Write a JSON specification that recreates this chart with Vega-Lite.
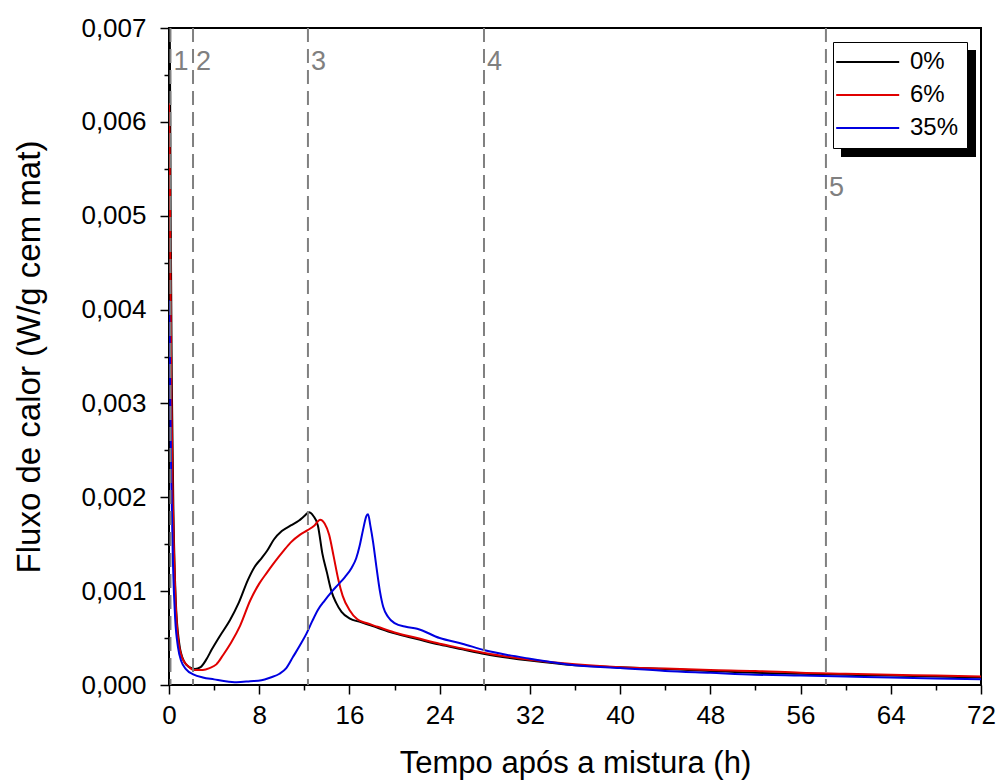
{
  "$schema": "https://vega.github.io/schema/vega-lite/v6.json",
  "width": 812,
  "height": 657,
  "autosize": {"type": "none"},
  "padding": {"left": 169, "top": 28, "right": 18, "bottom": 97},
  "background": "white",
  "config": {
    "font": "Liberation Sans",
    "view": {"stroke": "black", "strokeWidth": 2},
    "axis": {
      "domain": false, "grid": false, "tickColor": "black", "tickWidth": 1.5,
      "labelColor": "black", "titleColor": "black", "labelFont": "Liberation Sans",
      "titleFont": "Liberation Sans", "titleFontWeight": "normal",
      "labelFlush": false, "labelOverlap": false
    }
  },
  "datasets": {
    "curves": [
      {"series": "0%", "t": 0, "q": 0.008},
      {"series": "0%", "t": 0.08, "q": 0.0068},
      {"series": "0%", "t": 0.15, "q": 0.005},
      {"series": "0%", "t": 0.25, "q": 0.0032},
      {"series": "0%", "t": 0.4, "q": 0.0018},
      {"series": "0%", "t": 0.6, "q": 0.0009},
      {"series": "0%", "t": 0.9, "q": 0.00045},
      {"series": "0%", "t": 1.3, "q": 0.00026},
      {"series": "0%", "t": 1.8, "q": 0.00019},
      {"series": "0%", "t": 2.3, "q": 0.00017},
      {"series": "0%", "t": 2.8, "q": 0.00019},
      {"series": "0%", "t": 3.3, "q": 0.00027},
      {"series": "0%", "t": 3.8, "q": 0.00038},
      {"series": "0%", "t": 4.5, "q": 0.00052},
      {"series": "0%", "t": 5.4, "q": 0.00069},
      {"series": "0%", "t": 6.2, "q": 0.00088},
      {"series": "0%", "t": 7.0, "q": 0.00112},
      {"series": "0%", "t": 7.6, "q": 0.00126},
      {"series": "0%", "t": 8.2, "q": 0.00135},
      {"series": "0%", "t": 8.7, "q": 0.00143},
      {"series": "0%", "t": 9.3, "q": 0.00155},
      {"series": "0%", "t": 10.0, "q": 0.00164},
      {"series": "0%", "t": 10.8, "q": 0.0017},
      {"series": "0%", "t": 11.5, "q": 0.00175},
      {"series": "0%", "t": 12.0, "q": 0.0018},
      {"series": "0%", "t": 12.4, "q": 0.00184},
      {"series": "0%", "t": 12.8, "q": 0.0018},
      {"series": "0%", "t": 13.2, "q": 0.0017},
      {"series": "0%", "t": 13.6, "q": 0.0014},
      {"series": "0%", "t": 14.0, "q": 0.0012},
      {"series": "0%", "t": 14.4, "q": 0.001},
      {"series": "0%", "t": 14.8, "q": 0.00088},
      {"series": "0%", "t": 15.3, "q": 0.00078},
      {"series": "0%", "t": 16.0, "q": 0.00071},
      {"series": "0%", "t": 17.0, "q": 0.00067},
      {"series": "0%", "t": 18.0, "q": 0.00063},
      {"series": "0%", "t": 20.0, "q": 0.00055},
      {"series": "0%", "t": 22.0, "q": 0.00049},
      {"series": "0%", "t": 24.0, "q": 0.00043},
      {"series": "0%", "t": 26.0, "q": 0.00038},
      {"series": "0%", "t": 28.0, "q": 0.00033},
      {"series": "0%", "t": 32.0, "q": 0.00026},
      {"series": "0%", "t": 36.0, "q": 0.00021},
      {"series": "0%", "t": 40.0, "q": 0.00019},
      {"series": "0%", "t": 44.0, "q": 0.00017},
      {"series": "0%", "t": 48.0, "q": 0.00015},
      {"series": "0%", "t": 52.0, "q": 0.00013},
      {"series": "0%", "t": 56.0, "q": 0.00012},
      {"series": "0%", "t": 60.0, "q": 0.00011},
      {"series": "0%", "t": 64.0, "q": 0.0001},
      {"series": "0%", "t": 68.0, "q": 0.00009},
      {"series": "0%", "t": 72.0, "q": 0.00008},
      {"series": "6%", "t": 0, "q": 0.0062},
      {"series": "6%", "t": 0.05, "q": 0.0058},
      {"series": "6%", "t": 0.12, "q": 0.0045},
      {"series": "6%", "t": 0.2, "q": 0.0032},
      {"series": "6%", "t": 0.35, "q": 0.0019},
      {"series": "6%", "t": 0.55, "q": 0.001},
      {"series": "6%", "t": 0.8, "q": 0.0005},
      {"series": "6%", "t": 1.2, "q": 0.00028},
      {"series": "6%", "t": 1.7, "q": 0.0002},
      {"series": "6%", "t": 2.2, "q": 0.00016},
      {"series": "6%", "t": 3.0, "q": 0.00016},
      {"series": "6%", "t": 3.6, "q": 0.00018},
      {"series": "6%", "t": 4.2, "q": 0.00022},
      {"series": "6%", "t": 4.8, "q": 0.00032},
      {"series": "6%", "t": 5.5, "q": 0.00045},
      {"series": "6%", "t": 6.3, "q": 0.00063},
      {"series": "6%", "t": 7.2, "q": 0.0009},
      {"series": "6%", "t": 8.0, "q": 0.00108},
      {"series": "6%", "t": 8.7, "q": 0.0012},
      {"series": "6%", "t": 9.5, "q": 0.00133},
      {"series": "6%", "t": 10.1, "q": 0.00142},
      {"series": "6%", "t": 10.8, "q": 0.00152},
      {"series": "6%", "t": 11.6, "q": 0.0016},
      {"series": "6%", "t": 12.3, "q": 0.00165},
      {"series": "6%", "t": 12.9, "q": 0.0017},
      {"series": "6%", "t": 13.4, "q": 0.00176},
      {"series": "6%", "t": 13.8, "q": 0.00172},
      {"series": "6%", "t": 14.2, "q": 0.0016},
      {"series": "6%", "t": 14.6, "q": 0.00137},
      {"series": "6%", "t": 15.0, "q": 0.00113},
      {"series": "6%", "t": 15.4, "q": 0.00095},
      {"series": "6%", "t": 16.0, "q": 0.0008},
      {"series": "6%", "t": 16.7, "q": 0.0007},
      {"series": "6%", "t": 17.5, "q": 0.00066},
      {"series": "6%", "t": 18.5, "q": 0.00062},
      {"series": "6%", "t": 20.0, "q": 0.00056},
      {"series": "6%", "t": 22.0, "q": 0.0005},
      {"series": "6%", "t": 24.0, "q": 0.00044},
      {"series": "6%", "t": 26.0, "q": 0.00039},
      {"series": "6%", "t": 28.0, "q": 0.00034},
      {"series": "6%", "t": 32.0, "q": 0.00027},
      {"series": "6%", "t": 36.0, "q": 0.00022},
      {"series": "6%", "t": 40.0, "q": 0.00019},
      {"series": "6%", "t": 44.0, "q": 0.000175},
      {"series": "6%", "t": 48.0, "q": 0.00016},
      {"series": "6%", "t": 52.0, "q": 0.00015},
      {"series": "6%", "t": 56.0, "q": 0.00013},
      {"series": "6%", "t": 60.0, "q": 0.00012},
      {"series": "6%", "t": 64.0, "q": 0.00011},
      {"series": "6%", "t": 68.0, "q": 0.0001},
      {"series": "6%", "t": 72.0, "q": 0.00009},
      {"series": "35%", "t": 0, "q": 0.0041},
      {"series": "35%", "t": 0.05, "q": 0.0038},
      {"series": "35%", "t": 0.12, "q": 0.003},
      {"series": "35%", "t": 0.2, "q": 0.0022},
      {"series": "35%", "t": 0.35, "q": 0.0013},
      {"series": "35%", "t": 0.55, "q": 0.0007},
      {"series": "35%", "t": 0.8, "q": 0.0004},
      {"series": "35%", "t": 1.1, "q": 0.00025},
      {"series": "35%", "t": 1.5, "q": 0.00017},
      {"series": "35%", "t": 2.2, "q": 0.00011},
      {"series": "35%", "t": 3.0, "q": 0.00008},
      {"series": "35%", "t": 4.0, "q": 0.00006},
      {"series": "35%", "t": 5.0, "q": 0.00004},
      {"series": "35%", "t": 6.0, "q": 0.00003},
      {"series": "35%", "t": 7.2, "q": 0.00004},
      {"series": "35%", "t": 8.2, "q": 0.00005},
      {"series": "35%", "t": 9.0, "q": 0.00008},
      {"series": "35%", "t": 9.8, "q": 0.00012},
      {"series": "35%", "t": 10.4, "q": 0.00018},
      {"series": "35%", "t": 11.0, "q": 0.0003},
      {"series": "35%", "t": 11.6, "q": 0.00042},
      {"series": "35%", "t": 12.2, "q": 0.00055},
      {"series": "35%", "t": 12.7, "q": 0.00068},
      {"series": "35%", "t": 13.2, "q": 0.0008},
      {"series": "35%", "t": 13.8, "q": 0.0009},
      {"series": "35%", "t": 14.4, "q": 0.00099},
      {"series": "35%", "t": 15.0, "q": 0.00107},
      {"series": "35%", "t": 15.6, "q": 0.00115},
      {"series": "35%", "t": 16.2, "q": 0.00125},
      {"series": "35%", "t": 16.6, "q": 0.00135},
      {"series": "35%", "t": 16.9, "q": 0.00148},
      {"series": "35%", "t": 17.2, "q": 0.00165},
      {"series": "35%", "t": 17.5, "q": 0.0018},
      {"series": "35%", "t": 17.65, "q": 0.00182},
      {"series": "35%", "t": 17.85, "q": 0.0017},
      {"series": "35%", "t": 18.1, "q": 0.00152},
      {"series": "35%", "t": 18.4, "q": 0.00125},
      {"series": "35%", "t": 18.7, "q": 0.001},
      {"series": "35%", "t": 19.0, "q": 0.00083},
      {"series": "35%", "t": 19.4, "q": 0.00073},
      {"series": "35%", "t": 20.0, "q": 0.00066},
      {"series": "35%", "t": 21.0, "q": 0.00062},
      {"series": "35%", "t": 22.0, "q": 0.0006},
      {"series": "35%", "t": 24.0, "q": 0.0005},
      {"series": "35%", "t": 26.0, "q": 0.00044},
      {"series": "35%", "t": 28.0, "q": 0.00037},
      {"series": "35%", "t": 30.0, "q": 0.00032},
      {"series": "35%", "t": 32.0, "q": 0.00028},
      {"series": "35%", "t": 36.0, "q": 0.00021},
      {"series": "35%", "t": 40.0, "q": 0.00018},
      {"series": "35%", "t": 44.0, "q": 0.00015},
      {"series": "35%", "t": 48.0, "q": 0.00013},
      {"series": "35%", "t": 52.0, "q": 0.00011},
      {"series": "35%", "t": 56.0, "q": 0.0001},
      {"series": "35%", "t": 60.0, "q": 0.00009},
      {"series": "35%", "t": 64.0, "q": 0.00008},
      {"series": "35%", "t": 68.0, "q": 0.00007},
      {"series": "35%", "t": 72.0, "q": 0.00006}
    ],
    "markers": [
      {"label": "1", "t": 0.13, "ly": 0.00664},
      {"label": "2", "t": 2.13, "ly": 0.00664},
      {"label": "3", "t": 12.32, "ly": 0.00664},
      {"label": "4", "t": 27.93, "ly": 0.00664},
      {"label": "5", "t": 58.25, "ly": 0.0053}
    ]
  },
  "resolve": {"axis": {"x": "independent", "y": "independent"}},
  "layer": [
    {
      "data": {"name": "curves"},
      "mark": {"type": "line", "clip": true, "strokeWidth": 2, "interpolate": "monotone"},
      "encoding": {
        "x": {
          "field": "t", "type": "quantitative",
          "scale": {"domain": [0, 72], "nice": false, "zero": false},
          "axis": {
            "orient": "bottom", "values": [0, 8, 16, 24, 32, 40, 48, 56, 64, 72],
            "tickSize": 9, "labelFontSize": 26, "labelPadding": 8,
            "title": "Tempo após a mistura (h)", "titleFontSize": 31, "titlePadding": 20
          }
        },
        "y": {
          "field": "q", "type": "quantitative",
          "scale": {"domain": [0, 0.007], "nice": false},
          "axis": {
            "orient": "left", "values": [0, 0.001, 0.002, 0.003, 0.004, 0.005, 0.006, 0.007],
            "tickSize": 9, "labelFontSize": 26, "labelPadding": 14,
            "labelExpr": "replace(format(datum.value, '.3f'), '.', ',')",
            "title": "Fluxo de calor (W/g cem mat)", "titleFontSize": 33, "titlePadding": 34
          }
        },
        "color": {
          "field": "series", "type": "nominal",
          "scale": {"domain": ["0%", "6%", "35%"], "range": ["#000000", "#e00000", "#0000e0"]},
          "legend": {
            "orient": "none", "legendX": 664, "legendY": 14, "title": null, "zindex": 2,
            "symbolType": "M-1.6,0H4.4", "symbolSize": 441, "symbolStrokeWidth": 2,
            "labelFontSize": 24, "labelOffset": 45, "labelColor": "black",
            "strokeColor": "black", "fillColor": "white", "padding": 8, "rowPadding": 9
          }
        }
      }
    },
    {
      "data": {"name": "markers"},
      "mark": {"type": "rule", "color": "#808080", "strokeWidth": 2, "strokeDash": [14, 7]},
      "encoding": {
        "x": {"field": "t", "type": "quantitative", "axis": null}
      }
    },
    {
      "data": {"name": "markers"},
      "mark": {"type": "text", "color": "#808080", "fontSize": 27, "align": "left", "baseline": "middle", "dx": 3, "strokeWidth": 0},
      "encoding": {
        "x": {
          "field": "t", "type": "quantitative",
          "axis": {"orient": "bottom", "values": [4, 12, 20, 28, 36, 44, 52, 60, 68], "tickSize": 5, "labels": false, "title": null}
        },
        "y": {
          "field": "ly", "type": "quantitative",
          "axis": {"orient": "left", "values": [0.0005, 0.0015, 0.0025, 0.0035, 0.0045, 0.0055, 0.0065], "tickSize": 5, "labels": false, "title": null}
        },
        "stroke": {
          "field": "t", "type": "quantitative",
          "scale": {"range": ["#000000", "#000000"]},
          "legend": {
            "orient": "none", "legendX": 672, "legendY": 22, "title": null, "zindex": 1,
            "direction": "vertical", "gradientLength": 107, "gradientThickness": 135,
            "gradientStrokeWidth": 0, "labelOpacity": 0, "padding": 0
          }
        },
        "text": {"field": "label"}
      }
    }
  ]
}
